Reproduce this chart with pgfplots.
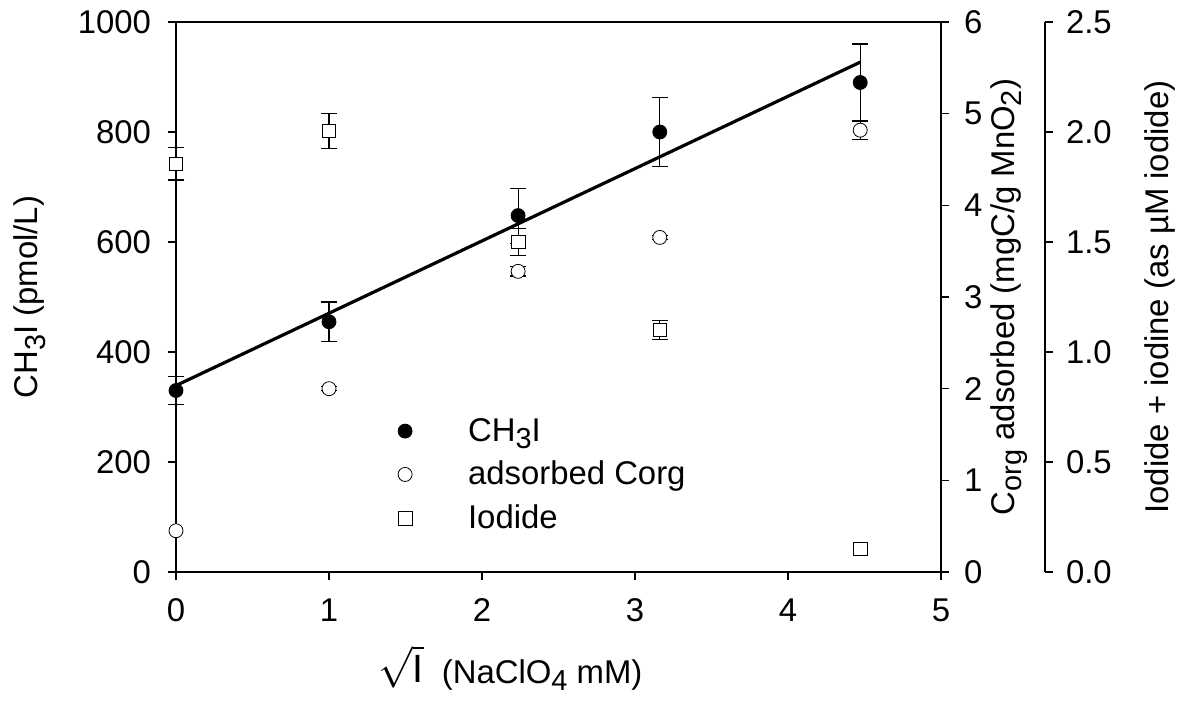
\documentclass[border=0pt]{standalone}
\usepackage{pgfplots}
\pgfplotsset{compat=1.18}
\usepackage{fontspec}
\setmainfont{Liberation Sans}
\newcommand{\sub}[1]{\raisebox{-0.45ex}{\fontsize{14.5}{16}\selectfont #1}}

\pgfplotsset{
  every axis/.append style={
    scale only axis,
    height=275bp,
    ymin=0,
    tick align=outside,
    major tick length=4bp,
    minor tick num=0,
    axis line style={line width=0.7bp},
    tick style={line width=0.7bp, black},
    ticklabel style={font=\fontsize{16.5}{19}\selectfont},
    label style={font=\fontsize{16.5}{19}\selectfont},
    /pgf/number format/assume math mode=true,
    /pgf/number format/1000 sep={},
    clip=false,
  },
  % bars only, drawn before the markers
  errbar/.style={
    draw=none, no marks, forget plot,
    error bars/.cd, y dir=both, y explicit,
    error bar style={line width=0.6bp, black, solid},
    error mark options={rotate=90, mark size=4bp, line width=0.6bp, black, solid},
  },
}

\begin{document}
\begin{tikzpicture}
% main axis: CH3I
\begin{axis}[
  width=382.5bp,
  xmin=0, xmax=5, ymax=1000,
  xtick={0,1,...,5}, ytick={0,200,...,1000},
  xtick pos=bottom, ytick pos=left,
  xticklabel style={yshift=-6bp},
  yticklabel style={xshift=-5bp},
  xlabel={\scalebox{1.2}{$\sqrt{\mathrm{I}}$} \ (NaClO\sub{4} mM)},
  xlabel style={at={(axis description cs:0.437,-0.175)}, anchor=center},
  ylabel={CH\sub{3}I (pmol/L)},
  ylabel style={at={(axis description cs:-0.191,0.5)}, anchor=center},
  legend style={draw=none, fill=none, at={(axis description cs:0.282,0.295)},
    anchor=north west, font=\fontsize{16.5}{19}\selectfont,
    column sep=26bp, row sep=4.5bp},
  legend cell align=left,
]
\addplot[errbar] coordinates {
  (0,330)     +- (0,26)
  (1,455)     +- (0,36)
  (2.236,648) +- (0,50)
  (3.162,800) +- (0,63)
  (4.472,890) +- (0,70)
};
\addplot[black, line width=1.6bp, no marks, forget plot] coordinates {
  (0,339) (4.472,927)
};
\addplot[only marks, mark=*, mark size=3.5bp, black] coordinates {
  (0,330) (1,455) (2.236,648) (3.162,800) (4.472,890)
};
\addlegendentry{CH\sub{3}I}
\addlegendimage{only marks, mark=o, mark size=3.5bp, black}
\addlegendentry{adsorbed Corg}
\addlegendimage{only marks, mark=square, mark size=3.4bp, black}
\addlegendentry{Iodide}
\end{axis}

% second axis: adsorbed Corg
\begin{axis}[
  width=382.5bp,
  xmin=0, xmax=5, ymax=6,
  axis x line=none, axis y line*=right,
  ytick={0,1,...,6},
  yticklabel style={xshift=4bp},
  ylabel={C\sub{org} adsorbed (mgC/g MnO\sub{2})},
  ylabel style={at={(axis description cs:1.089,0.5)}, anchor=center},
]
\addplot[errbar] coordinates {
  (1,2.0)      +- (0,0.02)
  (2.236,3.28) +- (0,0.05)
  (3.162,3.65) +- (0,0.02)
  (4.472,4.82) +- (0,0.10)
};
\addplot[only marks, mark=*, mark size=3.5bp, black, mark options={fill=white}] coordinates {
  (0,0.45) (1,2.0) (2.236,3.28) (3.162,3.65) (4.472,4.82)
};
\end{axis}

% third axis: iodide
\begin{axis}[
  width=434.5bp,
  xmin=0, xmax=5.67974, ymax=2.5,
  axis x line=none, axis y line*=right,
  ytick={0,0.5,...,2.5},
  yticklabel style={xshift=3bp, /pgf/number format/fixed, /pgf/number format/fixed zerofill, /pgf/number format/precision=1},
  ylabel={Iodide + iodine (as µM iodide)},
  ylabel style={at={(axis description cs:1.1323,0.5)}, anchor=center},
]
\addplot[errbar] coordinates {
  (0,1.855)    +- (0,0.073)
  (1,2.005)    +- (0,0.08)
  (2.236,1.50) +- (0,0.06)
  (3.162,1.10) +- (0,0.042)
};
\addplot[only marks, mark=square*, mark size=3.4bp, black, mark options={fill=white}] coordinates {
  (0,1.855) (1,2.005) (2.236,1.50) (3.162,1.10) (4.472,0.105)
};
\end{axis}

\pgfresetboundingbox
\useasboundingbox (-88bp,-65bp) rectangle (506bp,286bp);
\end{tikzpicture}
\end{document}
